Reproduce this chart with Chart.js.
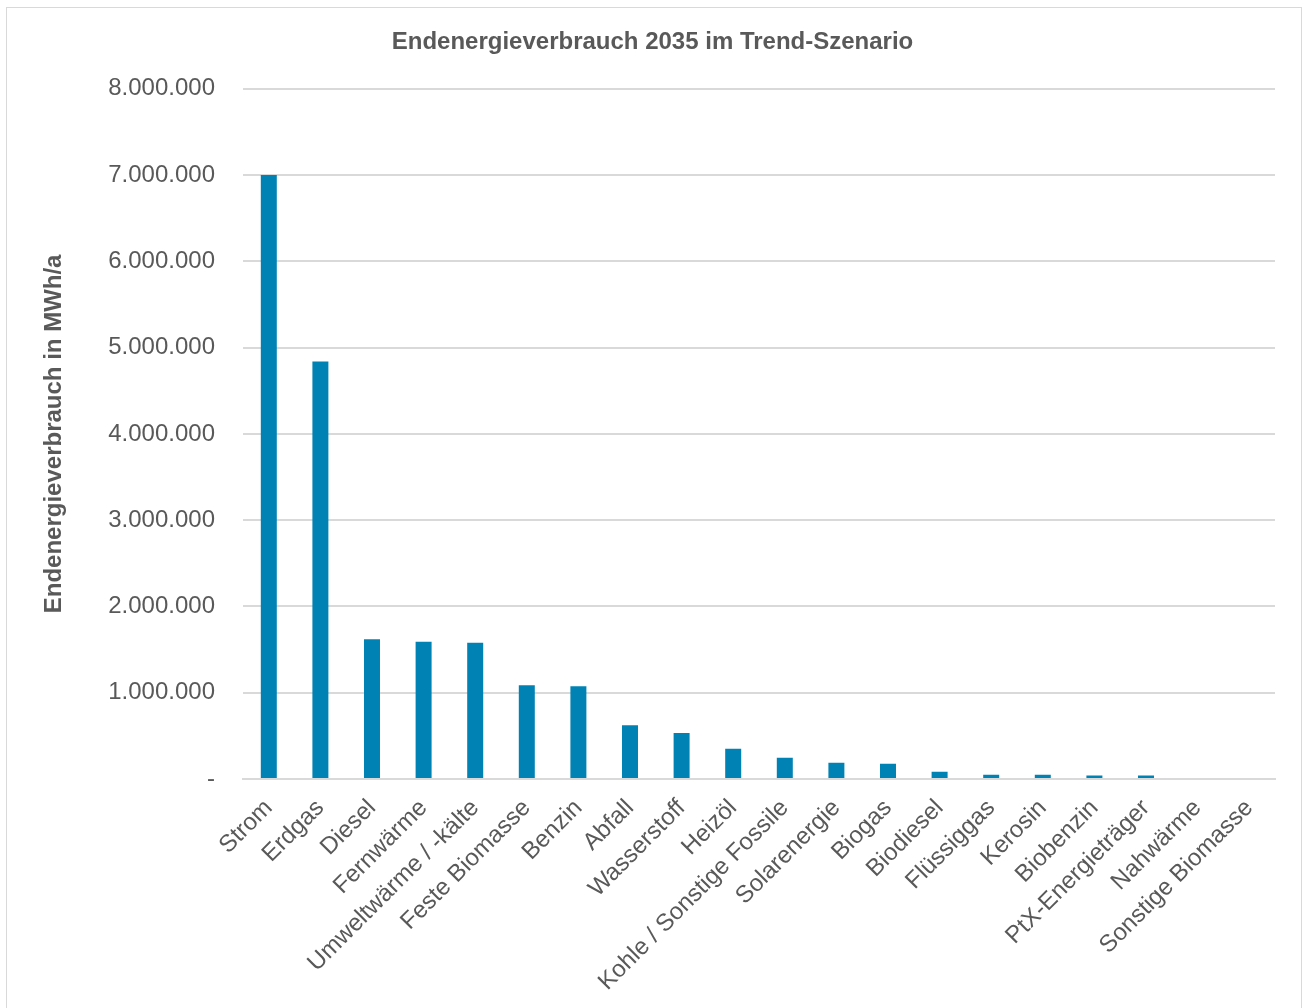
<!DOCTYPE html>
<html lang="de">
<head>
<meta charset="utf-8">
<title>Endenergieverbrauch 2035 im Trend-Szenario</title>
<script src="https://cdn.jsdelivr.net/npm/chart.js@4.4.1/dist/chart.umd.min.js"></script>
<style>
    body { margin: 0; background: #fff; }
    #frame {
        position: absolute; left: 6px; top: 7px;
        width: 1296px; height: 1010px;
        border: 1px solid #d9d9d9; box-sizing: border-box;
    }
    #chart { position: absolute; left: 0; top: 0; }
</style>
</head>
<body>
<div id="frame"></div>
<canvas id="chart" width="1305" height="1008"></canvas>
<script>
// categories + values (MWh/a)
const categories = ["Strom", "Erdgas", "Diesel", "Fernwärme", "Umweltwärme / -kälte", "Feste Biomasse",
    "Benzin", "Abfall", "Wasserstoff", "Heizöl", "Kohle / Sonstige Fossile", "Solarenergie", "Biogas",
    "Biodiesel", "Flüssiggas", "Kerosin", "Biobenzin", "PtX-Energieträger", "Nahwärme", "Sonstige Biomasse"];
const values = [7000000, 4840000, 1620000, 1590000, 1580000, 1086000,
    1074000, 622000, 533000, 351000, 247000, 189000, 177000,
    85000, 50000, 50000, 42000, 40000, 0, 0];
const yTicks = [0, 1000000, 2000000, 3000000, 4000000, 5000000, 6000000, 7000000, 8000000];

const textColor = "#595959";
const gridColor = "#d9d9d9";
const font = "'Liberation Sans', Arial, sans-serif";

function fmt(v) {
    if (v === 0) return "-";
    return String(Math.round(v)).replace(/\B(?=(\d{3})+(?!\d))/g, ".");
}

new Chart(document.getElementById("chart"), {
    type: "bar",
    data: {
        labels: categories,
        datasets: [{
            label: "Endenergieverbrauch",
            data: values,
            backgroundColor: "#0083b4",
            barPercentage: 0.31,
            categoryPercentage: 1
        }]
    },
    options: {
        responsive: false,
        animation: false,
        layout: { padding: { left: 30, right: 30, top: 0, bottom: 0 } },
        plugins: {
            legend: { display: false },
            tooltip: { enabled: false },
            title: {
                display: true,
                text: "Endenergieverbrauch 2035 im Trend-Szenario",
                color: textColor,
                font: { family: font, size: 24, weight: "bold" },
                padding: { top: 28, bottom: 32 }
            }
        },
        scales: {
            x: {
                grid: { display: false },
                border: { color: gridColor, width: 2 },
                ticks: {
                    color: textColor,
                    font: { family: font, size: 24 },
                    minRotation: 45,
                    maxRotation: 45,
                    autoSkip: false,
                    padding: 7
                },
                afterFit: (scale) => { scale.height = 229; }
            },
            y: {
                min: 0,
                max: 8000000,
                afterBuildTicks: (scale) => { scale.ticks = yTicks.map(v => ({ value: v })); },
                grid: { color: gridColor, lineWidth: 2, drawTicks: false },
                border: { display: false },
                ticks: {
                    color: textColor,
                    font: { family: font, size: 24 },
                    padding: 28,
                    callback: (v) => fmt(v)
                },
                title: {
                    display: true,
                    text: "Endenergieverbrauch in MWh/a",
                    color: textColor,
                    font: { family: font, size: 24, weight: "bold" },
                    padding: { top: 10, bottom: 0 }
                },
                afterFit: (scale) => { scale.width = 213; }
            }
        }
    }
});
</script>
</body>
</html>
